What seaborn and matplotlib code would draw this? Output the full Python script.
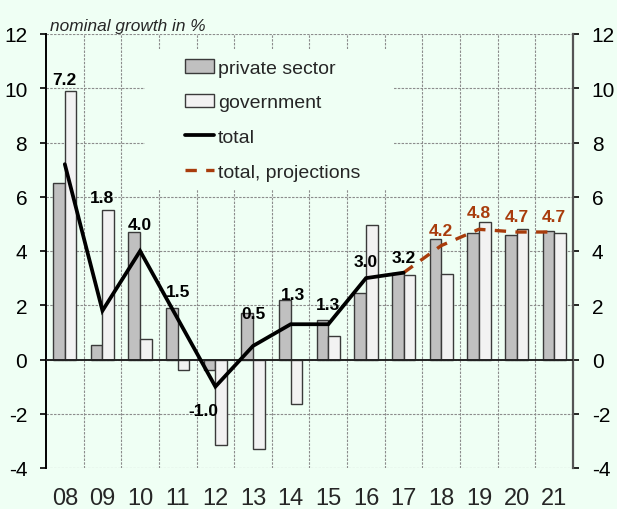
import matplotlib
matplotlib.use("Agg")
import matplotlib.pyplot as plt
from matplotlib.patches import Patch, Rectangle
from matplotlib.lines import Line2D
import pandas as pd
import seaborn as sns

# ---- data -------------------------------------------------------------
years = ["08", "09", "10", "11", "12", "13", "14", "15", "16", "17",
         "18", "19", "20", "21"]
private_sector = [6.5, 0.55, 4.7, 1.9, -0.4, 1.7, 2.2, 1.45, 2.45, 3.2,
                  4.45, 4.65, 4.6, 4.72]
government = [9.9, 5.5, 0.75, -0.4, -3.15, -3.3, -1.65, 0.87, 4.95, 3.1,
              3.17, 5.08, 4.8, 4.66]
total_years = ["08", "09", "10", "11", "12", "13", "14", "15", "16", "17"]
total = [7.2, 1.8, 4.0, 1.5, -1.0, 0.5, 1.3, 1.3, 3.0, 3.2]
proj_years = ["17", "18", "19", "20", "21"]
total_proj = [3.2, 4.2, 4.8, 4.7, 4.7]
y_ticks = [-4, -2, 0, 2, 4, 6, 8, 10, 12]
series_names = ["private sector", "government"]

# label placement relative to the line value (vertical, horizontal)
label_dy = [3.11, 4.16, 0.97, 1.0, -0.89, 1.2, 1.09, 0.74, 0.6, 0.55]
label_dx = [0.0, 0.0, 0.0, 0.0, -0.31, 0.0, 0.07, 0.0, 0.0, 0.0]
proj_label_dy = [0.56, 0.61, 0.58, 0.58]

BG = "#EFFFF4"
PRIV = "#C0C0C0"
GOV = "#F2F2F2"
EDGE = "#3A3A3A"
PROJ = "#A83C0C"

sns.set_style("white", {"axes.facecolor": BG, "figure.facecolor": BG})
plt.rcParams["font.family"] = ["Liberation Sans", "DejaVu Sans"]
NARROW = ["Liberation Sans Narrow", "Liberation Sans"]

df = pd.DataFrame({
    "year": years * 2,
    "series": [series_names[0]] * len(years) + [series_names[1]] * len(years),
    "value": private_sector + government,
})

fig = plt.figure(figsize=(6.17, 5.10), dpi=100)
ax = fig.add_axes([46 / 617, 1 - 469 / 510, 527 / 617, 434 / 510])

sns.barplot(data=df, x="year", y="value", hue="series", order=years,
            hue_order=series_names, palette=[PRIV, GOV], width=0.62,
            saturation=1, edgecolor=EDGE, linewidth=1.0, errorbar=None,
            legend=False, ax=ax, zorder=2)

pos = {y: i for i, y in enumerate(years)}
tx = [pos[y] for y in total_years]
px = [pos[y] for y in proj_years]

ax.plot(px, total_proj, color=PROJ, lw=2.4, dashes=(3.4, 2.8),
        solid_capstyle="butt", zorder=4)
ax.plot(tx, total, color="black", lw=2.7, zorder=5,
        solid_joinstyle="miter")

# value labels
for x, v, dy, dx in zip(tx, total, label_dy, label_dx):
    ax.text(x + dx, v + dy, f"{v:.1f}", ha="center", va="center",
            fontsize=12.5, fontweight="bold", family=NARROW, color="black",
            zorder=6)
for x, v, dy in zip(px[1:], total_proj[1:], proj_label_dy):
    ax.text(x, v + dy, f"{v:.1f}", ha="center", va="center",
            fontsize=12.5, fontweight="bold", family=NARROW, color=PROJ,
            zorder=6)

ax.axhline(0, color="#222222", lw=1.4, zorder=3)

# axes, grid
ax.set_xlim(-0.5, len(years) - 0.5)
ax.set_ylim(-4, 12)
ax.set_yticks(y_ticks)
ax.set_yticklabels([str(t) for t in y_ticks])
ax.set_xticks(range(len(years)))
ax.set_xticklabels(years, family=NARROW, fontsize=17)
ax.set_xticks([i + 0.5 for i in range(len(years) - 1)], minor=True)
ax.set_xlabel("")
ax.set_ylabel("")

grid_kw = dict(color="#8C8C8C", lw=0.8, linestyle=(0, (2.2, 1.2)))
ax.set_axisbelow(True)
ax.grid(axis="y", which="major", **grid_kw)
ax.grid(axis="x", which="minor", **grid_kw)
ax.grid(axis="x", which="major", visible=False)

ax.tick_params(axis="y", which="major", direction="out", length=4.5,
               width=1.2, labelsize=15, pad=9, left=True, right=True,
               labelleft=True, labelright=True, colors="black")
ax.tick_params(axis="x", which="both", length=0, pad=14)

for s in ("top", "bottom"):
    ax.spines[s].set_visible(False)
ax.spines["left"].set_color("black")
ax.spines["left"].set_linewidth(1.4)
ax.spines["right"].set_color("#555555")
ax.spines["right"].set_linewidth(1.6)

# legend area
ax.add_patch(Rectangle((99 / 527, 279 / 434), 248 / 527, 140 / 434,
                       transform=ax.transAxes, facecolor=BG,
                       edgecolor="none", zorder=1))
handles = [
    Patch(facecolor=PRIV, edgecolor=EDGE, linewidth=1.0),
    Patch(facecolor=GOV, edgecolor=EDGE, linewidth=1.0),
    Line2D([], [], color="black", lw=2.7),
    Line2D([], [], color=PROJ, lw=2.4, dashes=(3.4, 2.8)),
]
labels = ["private sector", "government", "total", "total, projections"]
fig.legend(handles, labels, loc="upper left",
           bbox_to_anchor=(185 / 617, 1 - 60 / 510), frameon=False,
           fontsize=14, borderpad=0, handlelength=1.5, handletextpad=0.2,
           labelspacing=0.88, borderaxespad=0)

fig.text(50 / 617, 1 - 31 / 510, "nominal growth in %", fontsize=12.4,
         style="italic", ha="left", va="baseline")

fig.savefig("out.png", dpi=100, facecolor=BG)
